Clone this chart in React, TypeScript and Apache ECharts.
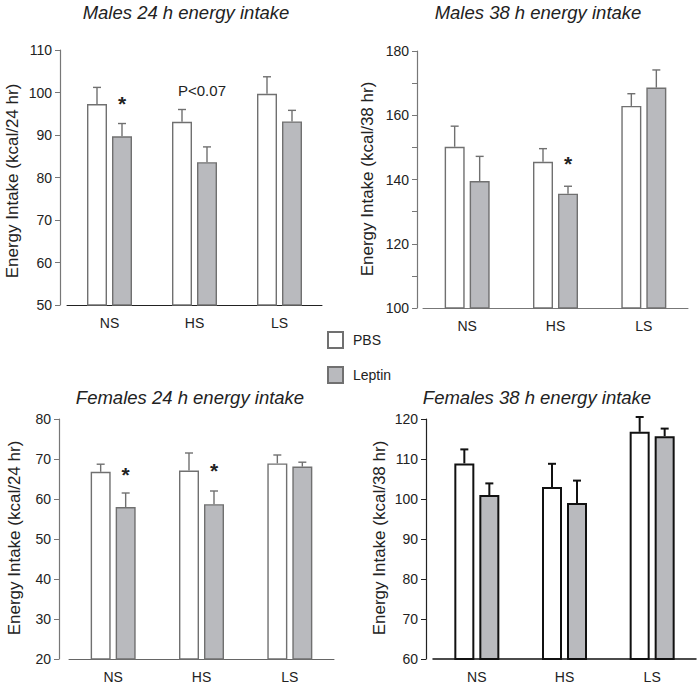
import React, { useEffect, useRef } from 'react';
import * as echarts from 'echarts';

// ---------- data ----------
const categories = ['NS', 'HS', 'LS'];
const groupNames = ['PBS', 'Leptin'];

const males24Titles = 'Males 24 h energy intake';
const males24PBS = [97.3, 93.1, 99.7];
const males24PBSSem = [3.9, 2.9, 4.0];
const males24Leptin = [89.7, 83.6, 93.2];
const males24LeptinSem = [3.0, 3.6, 2.6];
const males24Axis = [50, 110, 10];

const males38Title = 'Males 38 h energy intake';
const males38PBS = [150.2, 145.5, 162.9];
const males38PBSSem = [6.4, 4.1, 3.8];
const males38Leptin = [139.5, 135.6, 168.6];
const males38LeptinSem = [7.7, 2.3, 5.5];
const males38Axis = [100, 180, 10];

const females24Title = 'Females 24 h energy intake';
const females24PBS = [66.8, 67.1, 68.9];
const females24PBSSem = [1.9, 4.4, 2.1];
const females24Leptin = [58.0, 58.7, 68.1];
const females24LeptinSem = [3.5, 3.3, 1.1];
const females24Axis = [20, 80, 10];

const females38Title = 'Females 38 h energy intake';
const females38PBS = [108.9, 103.0, 116.8];
const females38PBSSem = [3.5, 5.8, 3.7];
const females38Leptin = [101.0, 99.0, 115.7];
const females38LeptinSem = [2.9, 5.6, 1.9];
const females38Axis = [60, 120, 10];

// annotations: category, bar group (or null for between), text, value level
const males24Notes = [
  { category: 'NS', group: 'Leptin', text: '*', value: 98.7 },
  { category: 'HS', group: null, text: 'P<0.07', value: 100.4 },
];
const males38Notes = [{ category: 'HS', group: 'Leptin', text: '*', value: 146.6 }];
const females24Notes = [
  { category: 'NS', group: 'Leptin', text: '*', value: 67.4 },
  { category: 'HS', group: 'Leptin', text: '*', value: 68.4 },
];
const females38Notes: { category: string; group: string | null; text: string; value: number }[] = [];

const yNames = ['Energy Intake (kcal/24 hr)', 'Energy Intake (kcal/38 hr)'];

// ---------- layout / style ----------
const FONT = 'Liberation Sans, Arial, Helvetica, sans-serif';
const BAR_W = 20;
const HALF = 12.5;

type Panel = {
  title: string;
  yName: string;
  pbs: number[]; pbsSem: number[]; lep: number[]; lepSem: number[];
  axis: number[];
  notes: { category: string; group: string | null; text: string; value: number }[];
  grid: { left: number; top: number; width: number; height: number };
  yOffset: number;
  titlePos: [number, number];
  yNamePos: [number, number];
  dark: boolean;
  xAxisColor: string;
  labelEvery: number;
};

const panels: Panel[] = [
  {
    title: males24Titles, yName: yNames[0],
    pbs: males24PBS, pbsSem: males24PBSSem, lep: males24Leptin, lepSem: males24LeptinSem,
    axis: males24Axis, notes: males24Notes,
    grid: { left: 67, top: 50, width: 255, height: 255 }, yOffset: 7,
    titlePos: [186, 12], yNamePos: [12, 181], dark: false, xAxisColor: '#222', labelEvery: 10,
  },
  {
    title: males38Title, yName: yNames[1],
    pbs: males38PBS, pbsSem: males38PBSSem, lep: males38Leptin, lepSem: males38LeptinSem,
    axis: males38Axis, notes: males38Notes,
    grid: { left: 423, top: 51, width: 265, height: 257 }, yOffset: 6,
    titlePos: [538, 12], yNamePos: [367, 179], dark: false, xAxisColor: '#777', labelEvery: 20,
  },
  {
    title: females24Title, yName: yNames[0],
    pbs: females24PBS, pbsSem: females24PBSSem, lep: females24Leptin, lepSem: females24LeptinSem,
    axis: females24Axis, notes: females24Notes,
    grid: { left: 69, top: 419, width: 265, height: 243 }, yOffset: 10,
    titlePos: [190, 397], yNamePos: [14, 538], dark: false, xAxisColor: '#666', labelEvery: 10,
  },
  {
    title: females38Title, yName: yNames[1],
    pbs: females38PBS, pbsSem: females38PBSSem, lep: females38Leptin, lepSem: females38LeptinSem,
    axis: females38Axis, notes: females38Notes,
    grid: { left: 433, top: 419, width: 263, height: 240 }, yOffset: 7,
    titlePos: [537, 397], yNamePos: [379, 538], dark: true, xAxisColor: '#111', labelEvery: 10,
  },
];

function buildOption() {
  const grid: any[] = [];
  const xAxis: any[] = [];
  const yAxis: any[] = [];
  const series: any[] = [];
  const graphic: any[] = [];

  panels.forEach((p, i) => {
    const lineColor = p.dark ? '#111' : '#707070';
    const lineW = p.dark ? 2 : 1.4;
    grid.push({ ...p.grid, containLabel: false });
    xAxis.push({
      type: 'category', gridIndex: i, data: categories,
      axisLine: { lineStyle: { color: p.xAxisColor, width: p.dark ? 1.5 : 1 } },
      axisTick: { show: false },
      axisLabel: { fontSize: 14, color: '#222', margin: 11, fontFamily: FONT },
      splitLine: { show: false },
    });
    yAxis.push({
      type: 'value', gridIndex: i, min: p.axis[0], max: p.axis[1], interval: p.axis[2],
      offset: p.yOffset,
      axisLine: { show: true, lineStyle: { color: p.dark ? '#222' : '#777', width: 1.2 } },
      axisTick: { show: true, length: 5, lineStyle: { color: p.dark ? '#222' : '#777', width: 1 } },
      axisLabel: {
        fontSize: 14, color: '#222', margin: 8, fontFamily: FONT,
        formatter: (v: number) => (Math.round(v - p.axis[0]) % p.labelEvery === 0 ? String(v) : ''),
      },
      splitLine: { show: false },
    });

    const groups = [
      { name: groupNames[0], vals: p.pbs, sem: p.pbsSem, fill: '#ffffff', side: -1 },
      { name: groupNames[1], vals: p.lep, sem: p.lepSem, fill: '#b9babe', side: 1 },
    ];
    groups.forEach((g) => {
      series.push({
        type: 'bar', name: g.name, xAxisIndex: i, yAxisIndex: i,
        data: g.vals, barWidth: BAR_W, barGap: '25%',
        itemStyle: { color: g.fill, borderColor: lineColor, borderWidth: lineW },
        emphasis: { disabled: true },
        silent: true,
      });
    });
    groups.forEach((g) => {
      series.push({
        type: 'custom', xAxisIndex: i, yAxisIndex: i, silent: true, z: 5,
        data: g.vals.map((v, k) => [k, v, g.sem[k]]),
        encode: { x: 0, y: 1 },
        renderItem: (params: any, api: any) => {
          const c = api.value(0);
          const m = api.value(1);
          const s = api.value(2);
          const b = api.coord([c, m]);
          const t = api.coord([c, m + s]);
          const x = b[0] + g.side * HALF;
          return {
            type: 'group',
            children: [
              { type: 'line', shape: { x1: x, y1: b[1], x2: x, y2: t[1] }, style: { stroke: lineColor, lineWidth: lineW } },
              { type: 'line', shape: { x1: x - 4, y1: t[1], x2: x + 4, y2: t[1] }, style: { stroke: lineColor, lineWidth: lineW } },
            ],
          };
        },
      });
    });
    if (p.notes.length) {
      series.push({
        type: 'custom', xAxisIndex: i, yAxisIndex: i, silent: true, z: 6,
        data: p.notes.map((n) => [categories.indexOf(n.category), n.value]),
        encode: { x: 0, y: 1 },
        renderItem: (params: any, api: any) => {
          const n = p.notes[params.dataIndex];
          const pt = api.coord([api.value(0), api.value(1)]);
          const star = n.text === '*';
          const dx = n.group === 'Leptin' ? HALF : n.group === 'PBS' ? -HALF : 7.5;
          return {
            type: 'text',
            x: pt[0] + dx,
            y: pt[1] + (star ? 5 : 0),
            style: {
              text: n.text,
              font: star ? `bold 21px ${FONT}` : `15px ${FONT}`,
              fill: '#222',
              align: 'center', verticalAlign: 'middle',
              textAlign: 'center', textVerticalAlign: 'middle',
            },
          };
        },
      });
    }

    graphic.push({
      type: 'text', x: p.titlePos[0], y: p.titlePos[1], silent: true,
      style: {
        text: p.title, font: `italic 18.5px ${FONT}`, fill: '#222',
        align: 'center', verticalAlign: 'middle', textAlign: 'center', textVerticalAlign: 'middle',
      },
    });
    graphic.push({
      type: 'text', x: p.yNamePos[0], y: p.yNamePos[1], rotation: Math.PI / 2, silent: true,
      style: {
        text: p.yName, font: `17px ${FONT}`, fill: '#222',
        align: 'center', verticalAlign: 'middle', textAlign: 'center', textVerticalAlign: 'middle',
      },
    });
  });

  return {
    animation: false,
    backgroundColor: '#ffffff',
    grid, xAxis, yAxis, series, graphic,
    legend: {
      data: groupNames,
      orient: 'vertical', left: 327, top: 331, padding: 0,
      itemWidth: 15, itemHeight: 16, itemGap: 17, icon: 'rect',
      selectedMode: false,
      textStyle: { fontSize: 14, color: '#222', fontFamily: FONT, padding: [0, 0, 0, 5] },
    },
  };
}

export default function App() {
  const ref = useRef<HTMLDivElement>(null);
  useEffect(() => {
    document.body.style.margin = '0';
    if (!ref.current) return;
    const chart = echarts.init(ref.current, undefined, { renderer: 'svg' });
    chart.setOption(buildOption() as any);
    return () => chart.dispose();
  }, []);
  return <div ref={ref} style={{ width: 697, height: 684 }} />;
}
